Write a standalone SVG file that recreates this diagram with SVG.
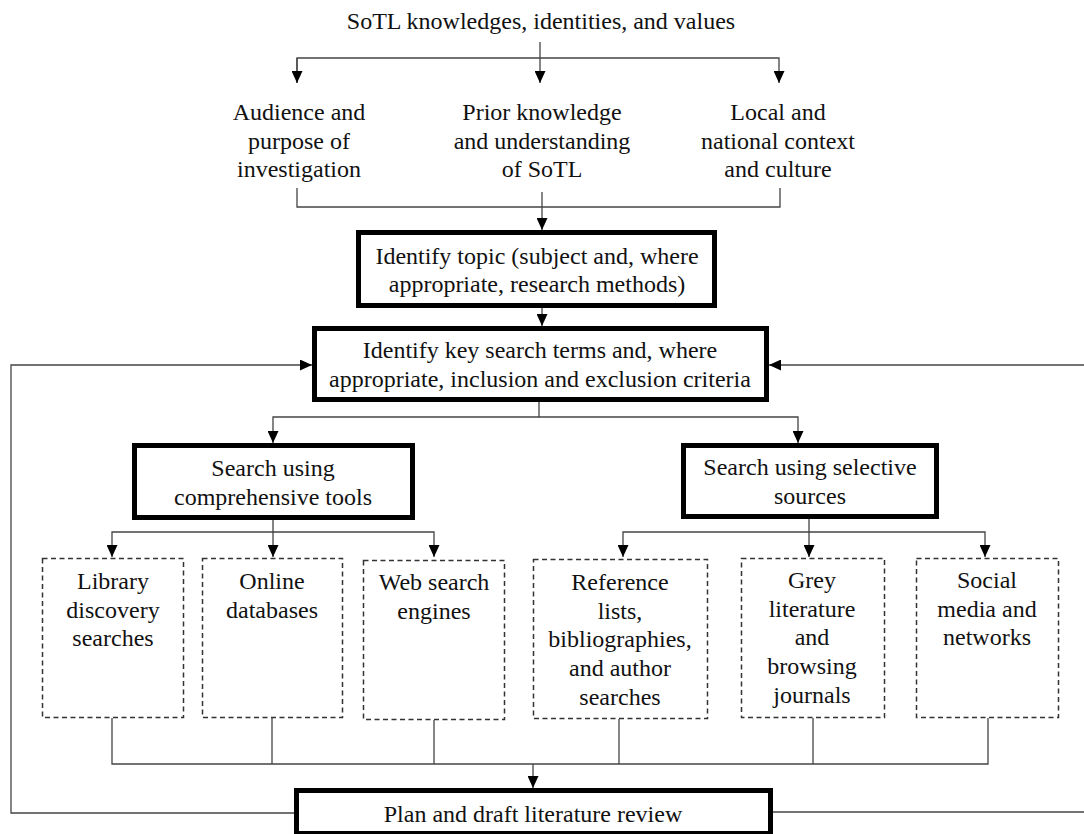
<svg xmlns="http://www.w3.org/2000/svg" width="1084" height="834" viewBox="0 0 1084 834">
<style>
text{font-family:"Liberation Serif","Times New Roman",serif;font-size:24px;fill:#111;text-anchor:middle}
.bold{fill:#fff;stroke:#000;stroke-width:5}
.dash{fill:#fff;stroke:#333;stroke-width:1.5;stroke-dasharray:5 3.5}
.ln{fill:none;stroke:#444;stroke-width:1.3}
</style>
<defs>
<marker id="ah" viewBox="0 0 12 11" refX="12" refY="5.5" markerWidth="12" markerHeight="11" markerUnits="userSpaceOnUse" orient="auto">
<path d="M0,0 L12,5.5 L0,11 z" fill="#000"/>
</marker>
</defs>
<g id="connectors">
<path class="ln" d="M540,42 V83" marker-end="url(#ah)"/>
<path class="ln" d="M297,83 V58 H779 V83" marker-end="url(#ah)"/>
<path class="ln" d="M297,58 V83" marker-end="url(#ah)"/>
<path class="ln" d="M297,188 V207 H780 V188"/>
<path class="ln" d="M542,192 V230" marker-end="url(#ah)"/>
<path class="ln" d="M542,308 V326" marker-end="url(#ah)"/>
<path class="ln" d="M294,813 H11 V365 H312" marker-end="url(#ah)"/>
<path class="ln" d="M773,812 H1084"/>
<path class="ln" d="M1084,365 H769" marker-end="url(#ah)"/>
<path class="ln" d="M539,402 V417 H798 V443" marker-end="url(#ah)"/>
<path class="ln" d="M539,417 H273 V443" marker-end="url(#ah)"/>
<path class="ln" d="M273,520 V532 H434 V557" marker-end="url(#ah)"/>
<path class="ln" d="M273,532 V557" marker-end="url(#ah)"/>
<path class="ln" d="M273,532 H112 V557" marker-end="url(#ah)"/>
<path class="ln" d="M809,519 V532 H985 V557" marker-end="url(#ah)"/>
<path class="ln" d="M809,532 V557" marker-end="url(#ah)"/>
<path class="ln" d="M809,532 H623 V557" marker-end="url(#ah)"/>
<path class="ln" d="M112,718 V764 H988 V718"/>
<path class="ln" d="M272,718 V764"/>
<path class="ln" d="M434,720 V764"/>
<path class="ln" d="M619,719 V764"/>
<path class="ln" d="M813,718 V764"/>
<path class="ln" d="M533,764 V788" marker-end="url(#ah)"/>
</g>
<g id="top">
<text x="541" y="29">SoTL knowledges, identities, and values</text>
</g>
<g id="audience">
<text x="299" y="120">Audience and</text>
<text x="299" y="148.5">purpose of</text>
<text x="299" y="177">investigation</text>
</g>
<g id="prior">
<text x="542" y="120">Prior knowledge</text>
<text x="542" y="148.5">and understanding</text>
<text x="542" y="177">of SoTL</text>
</g>
<g id="local">
<text x="778" y="120">Local and</text>
<text x="778" y="148.5">national context</text>
<text x="778" y="177">and culture</text>
</g>
<g id="topic">
<rect class="bold" x="358.5" y="232.5" width="356" height="73"/>
<text x="537" y="264">Identify topic (subject and, where</text>
<text x="537" y="292">appropriate, research methods)</text>
</g>
<g id="terms">
<rect class="bold" x="314.5" y="328.5" width="452" height="71"/>
<text x="540" y="358">Identify key search terms and, where</text>
<text x="540" y="387">appropriate, inclusion and exclusion criteria</text>
</g>
<g id="comprehensive">
<rect class="bold" x="134.5" y="445.5" width="278" height="72"/>
<text x="273" y="476">Search using</text>
<text x="273" y="505">comprehensive tools</text>
</g>
<g id="selective">
<rect class="bold" x="683.5" y="445.5" width="253" height="71"/>
<text x="810" y="475">Search using selective</text>
<text x="810" y="504">sources</text>
</g>
<g id="library">
<rect class="dash" x="42.5" y="558.5" width="141" height="159"/>
<text x="113" y="589">Library</text>
<text x="113" y="618">discovery</text>
<text x="113" y="646">searches</text>
</g>
<g id="online">
<rect class="dash" x="202.5" y="558.5" width="140" height="159"/>
<text x="272" y="589">Online</text>
<text x="272" y="618">databases</text>
</g>
<g id="web">
<rect class="dash" x="363.5" y="560.5" width="141" height="159"/>
<text x="434" y="590">Web search</text>
<text x="434" y="619">engines</text>
</g>
<g id="reference">
<rect class="dash" x="533.5" y="559.5" width="174" height="159"/>
<text x="620" y="590">Reference</text>
<text x="620" y="619">lists,</text>
<text x="620" y="647">bibliographies,</text>
<text x="620" y="676">and author</text>
<text x="620" y="705">searches</text>
</g>
<g id="grey">
<rect class="dash" x="741.5" y="558.5" width="143" height="159"/>
<text x="812" y="588">Grey</text>
<text x="812" y="617">literature</text>
<text x="812" y="645">and</text>
<text x="812" y="674">browsing</text>
<text x="812" y="703">journals</text>
</g>
<g id="social">
<rect class="dash" x="916.5" y="558.5" width="142" height="159"/>
<text x="987" y="588">Social</text>
<text x="987" y="617">media and</text>
<text x="987" y="645">networks</text>
</g>
<g id="plan">
<rect class="bold" x="296.5" y="790.5" width="474" height="43"/>
<text x="533" y="822">Plan and draft literature review</text>
</g>
</svg>
